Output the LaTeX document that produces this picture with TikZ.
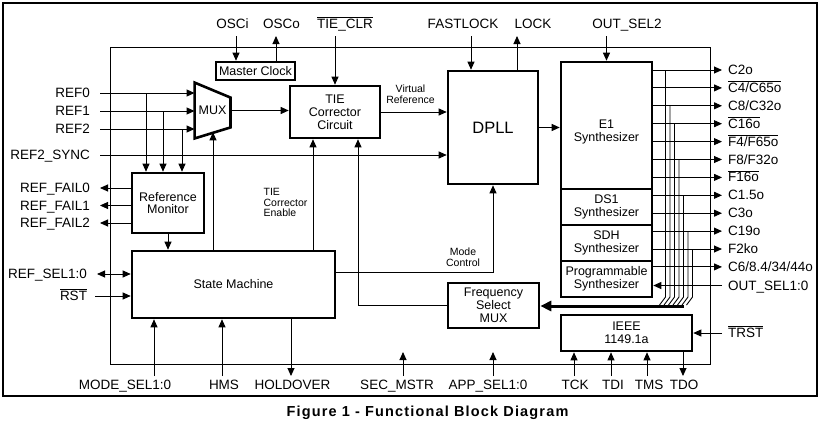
\documentclass[tikz,border=0pt]{standalone}
\usepackage{fontspec}
\setmainfont{Liberation Sans}
\usetikzlibrary{arrows.meta}
\newcommand{\ovl}[1]{$\overline{\mbox{#1}}$}

\begin{document}
\begin{tikzpicture}[
    x=1pt,y=-1pt,
    line width=0.9pt,
    >={Triangle[length=8pt,width=7pt]},
    blk/.style={draw,line width=2.6pt,inner sep=0pt,align=center,
      font=\fontsize{12.5}{12.8}\selectfont},
    txt/.style={inner sep=0pt,align=center,font=\fontsize{12.5}{12.8}\selectfont},
    lab/.style={inner sep=0pt,text height=9pt,text depth=0pt,
      font=\fontsize{13.5}{14}\selectfont},
    pinl/.style={lab,anchor=east,outer sep=10pt},
    pinr/.style={lab,anchor=west,outer sep=6pt},
    pint/.style={lab,anchor=south,outer sep=8pt},
    pinb/.style={lab,anchor=north,outer sep=4pt},
    note/.style={inner sep=0pt,align=center,font=\fontsize{10.5}{10.6}\selectfont},
    bus/.style={line width=3pt,->,>={Triangle[length=11pt,width=10pt]}}
    ]
    \useasboundingbox (0,0) rectangle (822,424);
    % frames and caption
    \draw[line width=1.2pt] (3,3) rectangle (817,396);
    \draw (110,47) rectangle (710,364);
    \node[font={\fontsize{14.5}{16}\selectfont\bfseries\addfontfeature{LetterSpace=8}}] (title) at (427.5,412.5) {Figure 1 - Functional Block Diagram};

    % blocks
    \node[blk,minimum width=79pt,minimum height=18pt] (mclk) at (255.5,71) {Master Clock};
    \node[txt,minimum width=35pt,minimum height=55pt] (mux) at (212.5,110.5) {MUX};
    \draw[line width=2.6pt] (mux.north west) -- ([yshift=-15pt]mux.north east)
      -- ([yshift=11pt]mux.south east) -- (mux.south west) -- cycle;
    \coordinate (muxsel) at (213,132.3);
    \node[blk,minimum width=90pt,minimum height=52pt] (tie) at (335,112) {TIE\\Corrector\\Circuit};
    \node[blk,minimum width=90pt,minimum height=113pt,font=\fontsize{16.5}{18}\selectfont] (dpll) at (493,127.5) {DPLL};
    \node[blk,minimum width=91pt,minimum height=127pt] (e1) at (606.5,125.5) {};
    \node[txt] (e1txt) at (606.5,132) {E1\\Synthesizer};
    \node[blk,minimum width=91pt,minimum height=36pt] (ds1) at (606.5,207) {DS1\\Synthesizer};
    \node[blk,minimum width=91pt,minimum height=36pt] (sdh) at (606.5,243) {SDH\\Synthesizer};
    \node[blk,minimum width=91pt,minimum height=36pt] (prog) at (606.5,279) {Programmable\\Synthesizer};
    \node[blk,minimum width=91pt,minimum height=45pt] (fsm) at (493.5,305.5) {Frequency\\Select\\MUX};
    \node[blk,minimum width=131pt,minimum height=36pt] (ieee) at (626.5,333) {IEEE\\1149.1a};
    \node[blk,minimum width=72pt,minimum height=60pt] (refmon) at (168,203) {Reference\\Monitor};
    \node[blk,minimum width=203pt,minimum height=67pt] (sm) at (233.5,284.5) {State Machine};

    % small notes
    \node[note] (vref) at (410.5,94.5) {Virtual\\Reference};
    \node[note,align=left] (tieen) at (285.5,202.5) {TIE\\Corrector\\Enable};
    \node[note] (mctl) at (463,257.5) {Mode\\Control};

    % pins on top
    \node[pint] (osci) at (232.5,36) {OSCi};
    \node[pint] (osco) at (281.5,36) {OSCo};
    \node[pint] (tieclr) at (345,36) {\ovl{TIE\_CLR}};
    \node[pint] (fastlock) at (463,36) {FASTLOCK};
    \node[pint] (lock) at (533,36) {LOCK};
    \node[pint] (osel2) at (627,36) {OUT\_SEL2};
    \coordinate (oscia) at ([xshift=3.5pt]osci.south);
    \coordinate (oscoa) at ([xshift=-5.5pt]osco.south);
    \coordinate (fla) at ([xshift=8pt]fastlock.south);
    \coordinate (locka) at ([xshift=-16pt]lock.south);
    \draw[->] (oscia) -- (oscia |- mclk.north);
    \draw[->] (oscoa |- mclk.north) -- (oscoa);
    \draw[->] (tie.north |- tieclr.south) -- (tie.north);
    \draw[->] (fla) -- (fla |- dpll.north);
    \draw[->] (locka |- dpll.north) -- (locka);
    \draw[->] (e1.north |- osel2.south) -- (e1.north);

    % pins on the left
    \node[pinl] (ref0) at (100,93) {REF0};
    \node[pinl] (ref1) at (100,111) {REF1};
    \node[pinl] (ref2) at (100,129) {REF2};
    \node[pinl] (ref2s) at (100,155) {REF2\_SYNC};
    \node[pinl] (rfail0) at (100,188) {REF\_FAIL0};
    \node[pinl] (rfail1) at (100,205.5) {REF\_FAIL1};
    \node[pinl] (rfail2) at (100,223) {REF\_FAIL2};
    \node[pinl] (refsel) at (97,274) {REF\_SEL1:0};
    \node[pinl,outer sep=8pt] (rst) at (95,296) {\ovl{RST}};
    \draw[->] (ref0.east) -- (ref0.east -| mux.west);
    \draw[->] (ref1.east) -- (ref1.east -| mux.west);
    \draw[->] (ref2.east) -- (ref2.east -| mux.west);
    \coordinate (tap0) at ([xshift=-22pt]refmon.north);
    \coordinate (tap1) at ([xshift=-5pt]refmon.north);
    \coordinate (tap2) at ([xshift=14pt]refmon.north);
    \draw[->] (tap0 |- ref0.east) -- (tap0);
    \draw[->] (tap1 |- ref1.east) -- (tap1);
    \draw[->] (tap2 |- ref2.east) -- (tap2);
    \draw[->] (ref2s.east) -- (ref2s.east -| dpll.west);
    \draw[->] (refmon.west |- rfail0.east) -- (rfail0.east);
    \draw[->] (refmon.west |- rfail1.east) -- (rfail1.east);
    \draw[->] (refmon.west |- rfail2.east) -- (rfail2.east);
    \draw[<->] (refsel.east) -- (refsel.east -| sm.west);
    \draw[->] (rst.east) -- (rst.east -| sm.west);

    % inside
    \draw[->] (mux.east) -- (mux.east -| tie.west);
    \draw[->] (tie.east) -- (tie.east -| dpll.west);
    \draw[->] (dpll.east) -- (dpll.east -| e1.west);
    \draw[->] (refmon.south) -- (refmon.south |- sm.north);
    \draw[->] (muxsel |- sm.north) -- (muxsel);
    \coordinate (tiena) at ([xshift=-22pt]tie.south);
    \draw[->] (tiena |- sm.north) -- (tiena);
    \draw[->] ([yshift=-23pt]sm.north east) -| (dpll.south);
    \draw[->] (fsm.west) -| ([xshift=23pt]tie.south);

    % pins on the right
    \node[pinr] (c2o) at (722,70) {C2o};
    \node[pinr] (c4o) at (722,87.9) {\ovl{C4/C65o}};
    \node[pinr] (c8o) at (722,105.8) {C8/C32o};
    \node[pinr] (c16o) at (722,123.7) {\ovl{C16o}};
    \node[pinr] (f4o) at (722,141.6) {\ovl{F4/F65o}};
    \node[pinr] (f8o) at (722,159.5) {F8/F32o};
    \node[pinr] (f16o) at (722,177.4) {\ovl{F16o}};
    \node[pinr] (c15o) at (722,195.3) {C1.5o};
    \node[pinr] (c3o) at (722,213.2) {C3o};
    \node[pinr] (c19o) at (722,231.1) {C19o};
    \node[pinr] (f2ko) at (722,249) {F2ko};
    \node[pinr] (c6o) at (722,266.9) {C6/8.4/34/44o};
    \node[pinr] (osel) at (722,285.5) {OUT\_SEL1:0};
    \node[pinr] (trst) at (722,333) {\ovl{TRST}};
    \draw[->] (e1.east |- c2o.west) -- (c2o.west);
    \draw[->] (e1.east |- c4o.west) -- (c4o.west);
    \draw[->] (e1.east |- c8o.west) -- (c8o.west);
    \draw[->] (e1.east |- c16o.west) -- (c16o.west);
    \draw[->] (e1.east |- f4o.west) -- (f4o.west);
    \draw[->] (e1.east |- f8o.west) -- (f8o.west);
    \draw[->] (e1.east |- f16o.west) -- (f16o.west);
    \draw[->] (ds1.east |- c15o.west) -- (c15o.west);
    \draw[->] (ds1.east |- c3o.west) -- (c3o.west);
    \draw[->] (sdh.east |- c19o.west) -- (c19o.west);
    \draw[->] (sdh.east |- f2ko.west) -- (f2ko.west);
    \draw[->] (prog.east |- c6o.west) -- (c6o.west);
    \draw[->] (osel.west) -- (osel.west -| prog.east);
    \draw[->] (trst.west) -- (trst.west -| ieee.east);

    % output taps to the frequency select bus
    \coordinate (bus0) at (665.5,297);
    \coordinate (bus1) at (670,297);
    \coordinate (bus2) at (674.5,297);
    \coordinate (bus3) at (679,297);
    \coordinate (bus4) at (683.5,297);
    \coordinate (bus5) at (688,297);
    \coordinate (bus6) at (692.5,297);
    \draw (bus0 |- c2o.west) -- (bus0) -- ++(-6,8);
    \draw (bus1 |- c8o.west) -- (bus1) -- ++(-6,8);
    \draw (bus2 |- c16o.west) -- (bus2) -- ++(-6,8);
    \draw (bus3 |- f8o.west) -- (bus3) -- ++(-6,8);
    \draw (bus4 |- c15o.west) -- (bus4) -- ++(-6,8);
    \draw (bus5 |- c19o.west) -- (bus5) -- ++(-6,8);
    \draw (bus6 |- f2ko.west) -- (bus6) -- ++(-6,8);
    \coordinate (busend) at (684,306);
    \draw[bus] (busend) -- (busend -| fsm.east);

    % pins at the bottom
    \node[pinb] (msel) at (125,376) {MODE\_SEL1:0};
    \node[pinb] (hms) at (224,376) {HMS};
    \node[pinb] (hold) at (292.5,376) {HOLDOVER};
    \node[pinb] (secm) at (397,376) {SEC\_MSTR};
    \node[pinb] (appsel) at (488,376) {APP\_SEL1:0};
    \node[pinb] (tck) at (575,376) {TCK};
    \node[pinb] (tdi) at (613,376) {TDI};
    \node[pinb] (tms) at (649,376) {TMS};
    \node[pinb] (tdo) at (684,376) {TDO};
    \coordinate (msela) at ([xshift=29pt]msel.north);
    \coordinate (hmsa) at ([xshift=-2pt]hms.north);
    \coordinate (holda) at ([xshift=-1.5pt]hold.north);
    \coordinate (secma) at ([xshift=6pt]secm.north);
    \coordinate (secend) at (403,352);
    \coordinate (appa) at ([xshift=5pt]appsel.north);
    \coordinate (append) at (493,352);
    \coordinate (tcka) at ([xshift=-1pt]tck.north);
    \coordinate (tdia) at ([xshift=-2pt]tdi.north);
    \coordinate (tmsa) at ([xshift=-2pt]tms.north);
    \coordinate (tdoa) at ([xshift=-1pt]tdo.north);
    \draw[->] (msela) -- (msela |- sm.south);
    \draw[->] (hmsa) -- (hmsa |- sm.south);
    \draw[->] (holda |- sm.south) -- (holda);
    \draw[->] (secma) -- (secend);
    \draw[->] (appa) -- (append);
    \draw[->] (tcka) -- (tcka |- ieee.south);
    \draw[->] (tdia) -- (tdia |- ieee.south);
    \draw[->] (tmsa) -- (tmsa |- ieee.south);
    \draw[->] (tdoa |- ieee.south) -- (tdoa);
\end{tikzpicture}
\end{document}
